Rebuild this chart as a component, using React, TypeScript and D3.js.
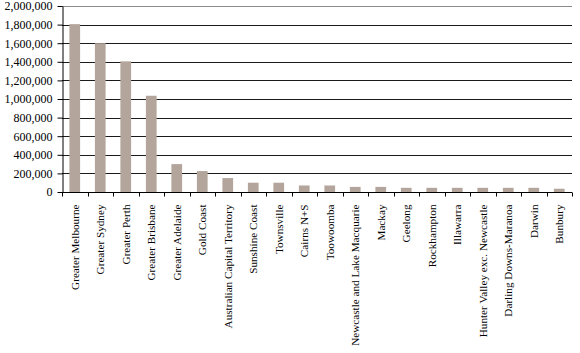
import React, { useEffect, useRef } from 'react'
import * as d3 from 'd3'

const regions = [
  'Greater Melbourne',
  'Greater Sydney',
  'Greater Perth',
  'Greater Brisbane',
  'Greater Adelaide',
  'Gold Coast',
  'Australian Capital Territory',
  'Sunshine Coast',
  'Townsville',
  'Cairns N+S',
  'Toowoomba',
  'Newcastle and Lake Macquarie',
  'Mackay',
  'Geelong',
  'Rockhampton',
  'Illawarra',
  'Hunter Valley exc. Newcastle',
  'Darling Downs-Maranoa',
  'Darwin',
  'Bunbury',
]

const values = [
  1805000, 1600000, 1405000, 1035000, 300000, 225000, 150000, 100000, 100000,
  70000, 70000, 55000, 55000, 45000, 45000, 45000, 45000, 45000, 45000, 35000,
]

const yTicks = d3.range(0, 2000001, 200000)

const WIDTH = 580
const HEIGHT = 353

export default function App() {
  const ref = useRef<SVGSVGElement>(null)

  useEffect(() => {
    const margin = { top: 6, right: 8, bottom: 161, left: 62 }
    const svg = d3.select(ref.current)
    svg.selectAll('*').remove()

    const x = d3
      .scaleBand()
      .domain(regions)
      .range([margin.left, WIDTH - margin.right])
      .paddingInner(0.58)
      .paddingOuter(0.29)

    const y = d3
      .scaleLinear()
      .domain([0, 2000000])
      .range([HEIGHT - margin.bottom, margin.top])

    const font = '"Liberation Serif", "Times New Roman", serif'

    // gridlines
    svg
      .append('g')
      .selectAll('line')
      .data(yTicks.slice(1))
      .join('line')
      .attr('x1', margin.left)
      .attr('x2', WIDTH - margin.right)
      .attr('y1', d => Math.round(y(d)) + 0.5)
      .attr('y2', d => Math.round(y(d)) + 0.5)
      .attr('stroke', (d, i) => (i === yTicks.length - 2 ? '#8a8a8a' : '#1a1a1a'))
      .attr('stroke-width', 1)

    // bars
    svg
      .append('g')
      .selectAll('rect')
      .data(values)
      .join('rect')
      .attr('x', (d, i) => x(regions[i]) as number)
      .attr('y', d => y(d))
      .attr('width', x.bandwidth())
      .attr('height', d => y(0) - y(d))
      .attr('fill', '#b3a59b')

    // y axis
    const yAxis = svg
      .append('g')
      .attr('transform', `translate(${margin.left + 0.5},0)`)
      .call(
        d3
          .axisLeft(y)
          .tickValues(yTicks)
          .tickSize(5)
          .tickSizeOuter(0)
          .tickPadding(5)
          .tickFormat(d => d3.format(',')(d as number))
      )
    yAxis.select('.domain').attr('stroke', '#000')
    yAxis.selectAll('.tick line').attr('stroke', '#000')
    yAxis
      .selectAll('text')
      .style('font-family', font)
      .style('font-size', '12px')
      .attr('fill', '#000')

    // x axis with boundary ticks
    const y0 = Math.round(y(0)) + 0.5
    const step = x.step()
    const bounds = d3.range(regions.length + 1).map(i => margin.left + i * step)
    const xg = svg.append('g')
    xg.append('line')
      .attr('x1', margin.left)
      .attr('x2', WIDTH - margin.right)
      .attr('y1', y0)
      .attr('y2', y0)
      .attr('stroke', '#000')
    xg.selectAll('line.tick')
      .data(bounds)
      .join('line')
      .attr('class', 'tick')
      .attr('x1', d => Math.round(d) + 0.5)
      .attr('x2', d => Math.round(d) + 0.5)
      .attr('y1', y0)
      .attr('y2', y0 + 4)
      .attr('stroke', '#000')

    xg.selectAll('text')
      .data(regions)
      .join('text')
      .attr(
        'transform',
        d => `translate(${(x(d) as number) + x.bandwidth() / 2 + 4},${y0 + 12}) rotate(-90)`
      )
      .attr('text-anchor', 'end')
      .style('font-family', font)
      .style('font-size', '11.2px')
      .attr('fill', '#000')
      .text(d => d)
  }, [])

  return (
    <svg
      ref={ref}
      width={WIDTH}
      height={HEIGHT}
      style={{ position: 'absolute', left: 0, top: 0, background: '#fff' }}
    />
  )
}
